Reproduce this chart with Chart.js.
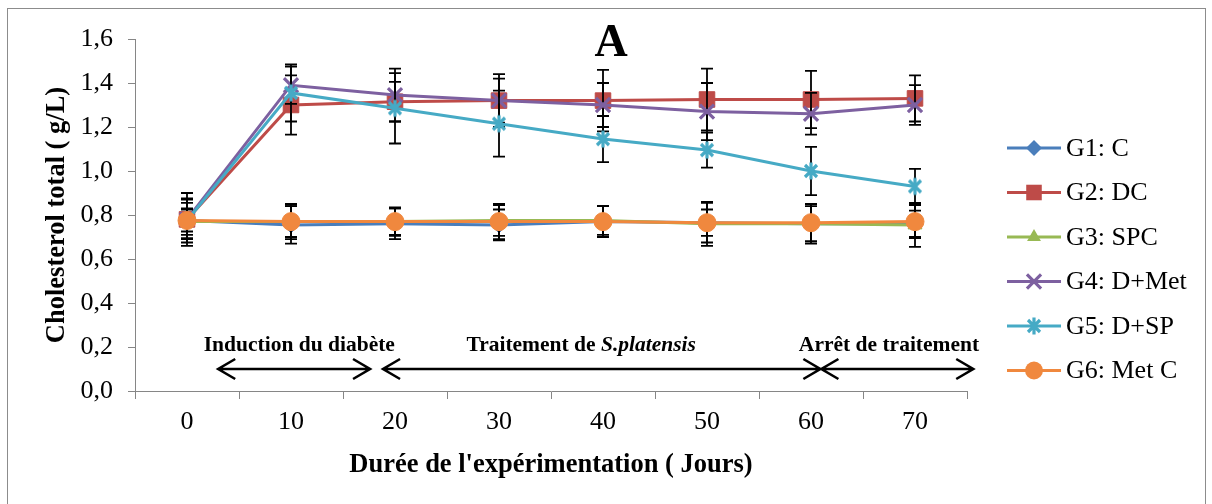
<!DOCTYPE html>
<html><head><meta charset="utf-8">
<script src="https://cdn.jsdelivr.net/npm/chart.js@4/dist/chart.umd.min.js"></script>
<style>html,body{margin:0;padding:0;background:#fff;}#wrap{width:1212px;height:504px;position:relative}</style>
</head><body><div id="wrap"><canvas id="c" width="1212" height="504"></canvas></div>
<script>
// ---- data ----
const days = ['0','10','20','30','40','50','60','70'];
const yTickLabels = ['0,0','0,2','0,4','0,6','0,8','1,0','1,2','1,4','1,6'];
const seriesNames = ['G1: C','G2: DC','G3: SPC','G4: D+Met','G5: D+SP','G6: Met C'];
const g1 = [0.775, 0.755, 0.760, 0.755, 0.770, 0.765, 0.760, 0.760];
const g2 = [0.780, 1.300, 1.315, 1.320, 1.320, 1.325, 1.325, 1.330];
const g3 = [0.770, 0.770, 0.770, 0.775, 0.775, 0.760, 0.760, 0.755];
const g4 = [0.780, 1.390, 1.345, 1.320, 1.300, 1.270, 1.260, 1.300];
const g5 = [0.775, 1.355, 1.285, 1.215, 1.145, 1.095, 1.000, 0.930];
const g6 = [0.775, 0.770, 0.770, 0.770, 0.770, 0.765, 0.765, 0.770];
const e1 = [0.08, 0.085, 0.07, 0.07, 0.07, 0.09, 0.09, 0.06];
const e2 = [0.12, 0.135, 0.09, 0.12, 0.14, 0.14, 0.13, 0.105];
const e3 = [0.06, 0.07, 0.06, 0.07, 0.065, 0.10, 0.08, 0.10];
const e4 = [0.09, 0.085, 0.12, 0.10, 0.10, 0.13, 0.095, 0.09];
const e5 = [0.10, 0.13, 0.16, 0.15, 0.105, 0.08, 0.11, 0.08];
const e6 = [0.05, 0.08, 0.065, 0.08, 0.07, 0.06, 0.085, 0.075];
const phases = [
  {label:'Induction du diabète', italic:null, from:0.30, to:1.76, mid:1.08},
  {label:'Traitement de ', italic:'S.platensis', from:1.885, to:6.09, mid:3.79},
  {label:'Arrêt de traitement', italic:null, from:6.10, to:7.56, mid:6.75}
];
const arrowY = 0.10, phaseTextY = 0.205;

const values = [g1,g2,g3,g4,g5,g6];
const errors = [e1,e2,e3,e4,e5,e6];
const colors = ['#4A7EBB','#BE4B48','#98B954','#7D60A0','#46AAC5','#F0883E'];
const FONT = "'Liberation Serif','Times New Roman',serif";

function asterisk(color){
  const cv=document.createElement('canvas'); cv.width=20; cv.height=20;
  const c=cv.getContext('2d'); c.strokeStyle=color; c.lineWidth=3.2; c.lineCap='butt';
  c.beginPath(); c.moveTo(4,4); c.lineTo(16,16); c.moveTo(16,4); c.lineTo(4,16);
  c.moveTo(10,1.5); c.lineTo(10,18.5); c.stroke(); return cv;
}
const starImg = asterisk(colors[4]);
const styles = [
  {pointStyle:'rectRot', radius:8},
  {pointStyle:'rect', radius:11},
  {pointStyle:'triangle', radius:8},
  {pointStyle:'crossRot', radius:10},
  {pointStyle:starImg, radius:10},
  {pointStyle:'circle', radius:9}
];

const datasets = values.map((v,i)=>({
  label: seriesNames[i], data: v,
  borderColor: colors[i], backgroundColor: colors[i],
  borderWidth: 3, pointStyle: styles[i].pointStyle, pointRadius: styles[i].radius,
  pointBorderColor: colors[i], pointBackgroundColor: colors[i],
  pointBorderWidth: (i===3)?3.2:1, pointHoverRadius: styles[i].radius,
  tension: 0, order: 5-i
}));

function drawMarker(ctx, i, x, y){
  const col = colors[i]; ctx.save(); ctx.fillStyle=col; ctx.strokeStyle=col;
  const r = styles[i].radius;
  ctx.beginPath();
  if(i===0){ ctx.moveTo(x,y-r); ctx.lineTo(x+r,y); ctx.lineTo(x,y+r); ctx.lineTo(x-r,y); ctx.closePath(); ctx.fill(); }
  else if(i===1){ const s=r*Math.SQRT1_2; ctx.rect(x-s,y-s,2*s,2*s); ctx.fill(); }
  else if(i===2){ ctx.moveTo(x,y-r); ctx.lineTo(x+r*0.866,y+r*0.5); ctx.lineTo(x-r*0.866,y+r*0.5); ctx.closePath(); ctx.fill(); }
  else if(i===3){ const s=r*Math.SQRT1_2; ctx.lineWidth=3.2; ctx.moveTo(x-s,y-s); ctx.lineTo(x+s,y+s); ctx.moveTo(x+s,y-s); ctx.lineTo(x-s,y+s); ctx.stroke(); }
  else if(i===4){ ctx.drawImage(starImg, x-10, y-10); }
  else { ctx.arc(x,y,r,0,Math.PI*2); ctx.fill(); }
  ctx.restore();
}

const deco = {
  id:'deco',
  beforeDraw(chart){
    const ctx=chart.ctx; ctx.save(); ctx.fillStyle='#fff'; ctx.fillRect(0,0,chart.width,chart.height);
    ctx.strokeStyle='#8c8c8c'; ctx.lineWidth=1; ctx.strokeRect(7.5,8.5,1198,500); ctx.restore();
  },
  beforeDatasetDraw(chart, args){
    const i=args.index, ctx=chart.ctx, xs=chart.scales.x, ys=chart.scales.y;
    ctx.save(); ctx.strokeStyle='#000'; ctx.lineWidth=1.8;
    values[i].forEach((v,k)=>{
      const x=xs.getPixelForValue(k), t=ys.getPixelForValue(v+errors[i][k]), b=ys.getPixelForValue(v-errors[i][k]);
      ctx.beginPath(); ctx.moveTo(x,t); ctx.lineTo(x,b);
      ctx.moveTo(x-6,t); ctx.lineTo(x+6,t); ctx.moveTo(x-6,b); ctx.lineTo(x+6,b); ctx.stroke();
    });
    ctx.restore();
  },
  afterDraw(chart){
    const ctx=chart.ctx, xs=chart.scales.x, ys=chart.scales.y, ca=chart.chartArea;
    ctx.save();
    // title
    ctx.fillStyle='#000'; ctx.textAlign='center'; ctx.textBaseline='alphabetic';
    ctx.font='bold 46px '+FONT; ctx.fillText('A', 611, 56);
    // axis titles
    ctx.font='bold 26.5px '+FONT;
    ctx.fillText("Durée de l'expérimentation ( Jours)", (ca.left+ca.right)/2, 472);
    ctx.save(); ctx.translate(57,(ca.top+ca.bottom)/2); ctx.rotate(-Math.PI/2);
    ctx.textBaseline='middle'; ctx.fillText('Cholesterol total ( g/L)',0,0); ctx.restore();
    // phases
    const ty = ys.getPixelForValue(phaseTextY), ay = ys.getPixelForValue(arrowY);
    const PF = 21.5;
    phases.forEach(p=>{
      ctx.font='bold '+PF+'px '+FONT; ctx.textBaseline='middle'; ctx.textAlign='left';
      const w1=ctx.measureText(p.label).width;
      let w2=0; if(p.italic){ ctx.font='bold italic '+PF+'px '+FONT; w2=ctx.measureText(p.italic).width; }
      const cx=xs.getPixelForValue(p.mid); let sx=cx-(w1+w2)/2;
      ctx.font='bold '+PF+'px '+FONT; ctx.fillText(p.label,sx,ty);
      if(p.italic){ ctx.font='bold italic '+PF+'px '+FONT; ctx.fillText(p.italic,sx+w1,ty); }
      const x1=xs.getPixelForValue(p.from), x2=xs.getPixelForValue(p.to);
      ctx.strokeStyle='#000'; ctx.lineWidth=2.6; ctx.lineCap='butt';
      ctx.beginPath(); ctx.moveTo(x1,ay); ctx.lineTo(x2,ay);
      ctx.moveTo(x1+17,ay-10); ctx.lineTo(x1,ay); ctx.lineTo(x1+17,ay+10);
      ctx.moveTo(x2-17,ay-10); ctx.lineTo(x2,ay); ctx.lineTo(x2-17,ay+10);
      ctx.stroke();
    });
    // legend
    const ly0=148, step=44.5;
    seriesNames.forEach((n,i)=>{
      const y=ly0+i*step;
      ctx.strokeStyle=colors[i]; ctx.lineWidth=3; ctx.beginPath(); ctx.moveTo(1007,y); ctx.lineTo(1061,y); ctx.stroke();
      drawMarker(ctx,i,1034,y);
      ctx.fillStyle='#000'; ctx.font='26px '+FONT; ctx.textAlign='left'; ctx.textBaseline='middle';
      ctx.fillText(n,1066,y+1);
    });
    ctx.restore();
  }
};

new Chart(document.getElementById('c'), {
  type:'line',
  data:{labels:days, datasets},
  options:{
    responsive:false, animation:false, devicePixelRatio:1,
    layout:{padding:{top:39,right:245,left:0,bottom:0}},
    plugins:{legend:{display:false}, tooltip:{enabled:false}, title:{display:false}},
    scales:{
      x:{type:'category', offset:true,
        grid:{offset:true, drawOnChartArea:false, drawTicks:true, tickLength:8, color:'#868686'},
        border:{color:'#868686', width:1},
        ticks:{color:'#000', font:{family:FONT, size:26}, padding:8, maxRotation:0},
        afterFit(s){ s.height=113; }
      },
      y:{min:0, max:1.6,
        grid:{drawOnChartArea:false, drawTicks:true, tickLength:7, color:'#868686'},
        border:{color:'#868686', width:1},
        ticks:{stepSize:0.2, color:'#000', font:{family:FONT, size:26}, padding:15,
          callback:(v,idx)=>yTickLabels[idx]},
        afterFit(s){ s.width=135; }
      }
    }
  },
  plugins:[deco]
});
</script></body></html>
